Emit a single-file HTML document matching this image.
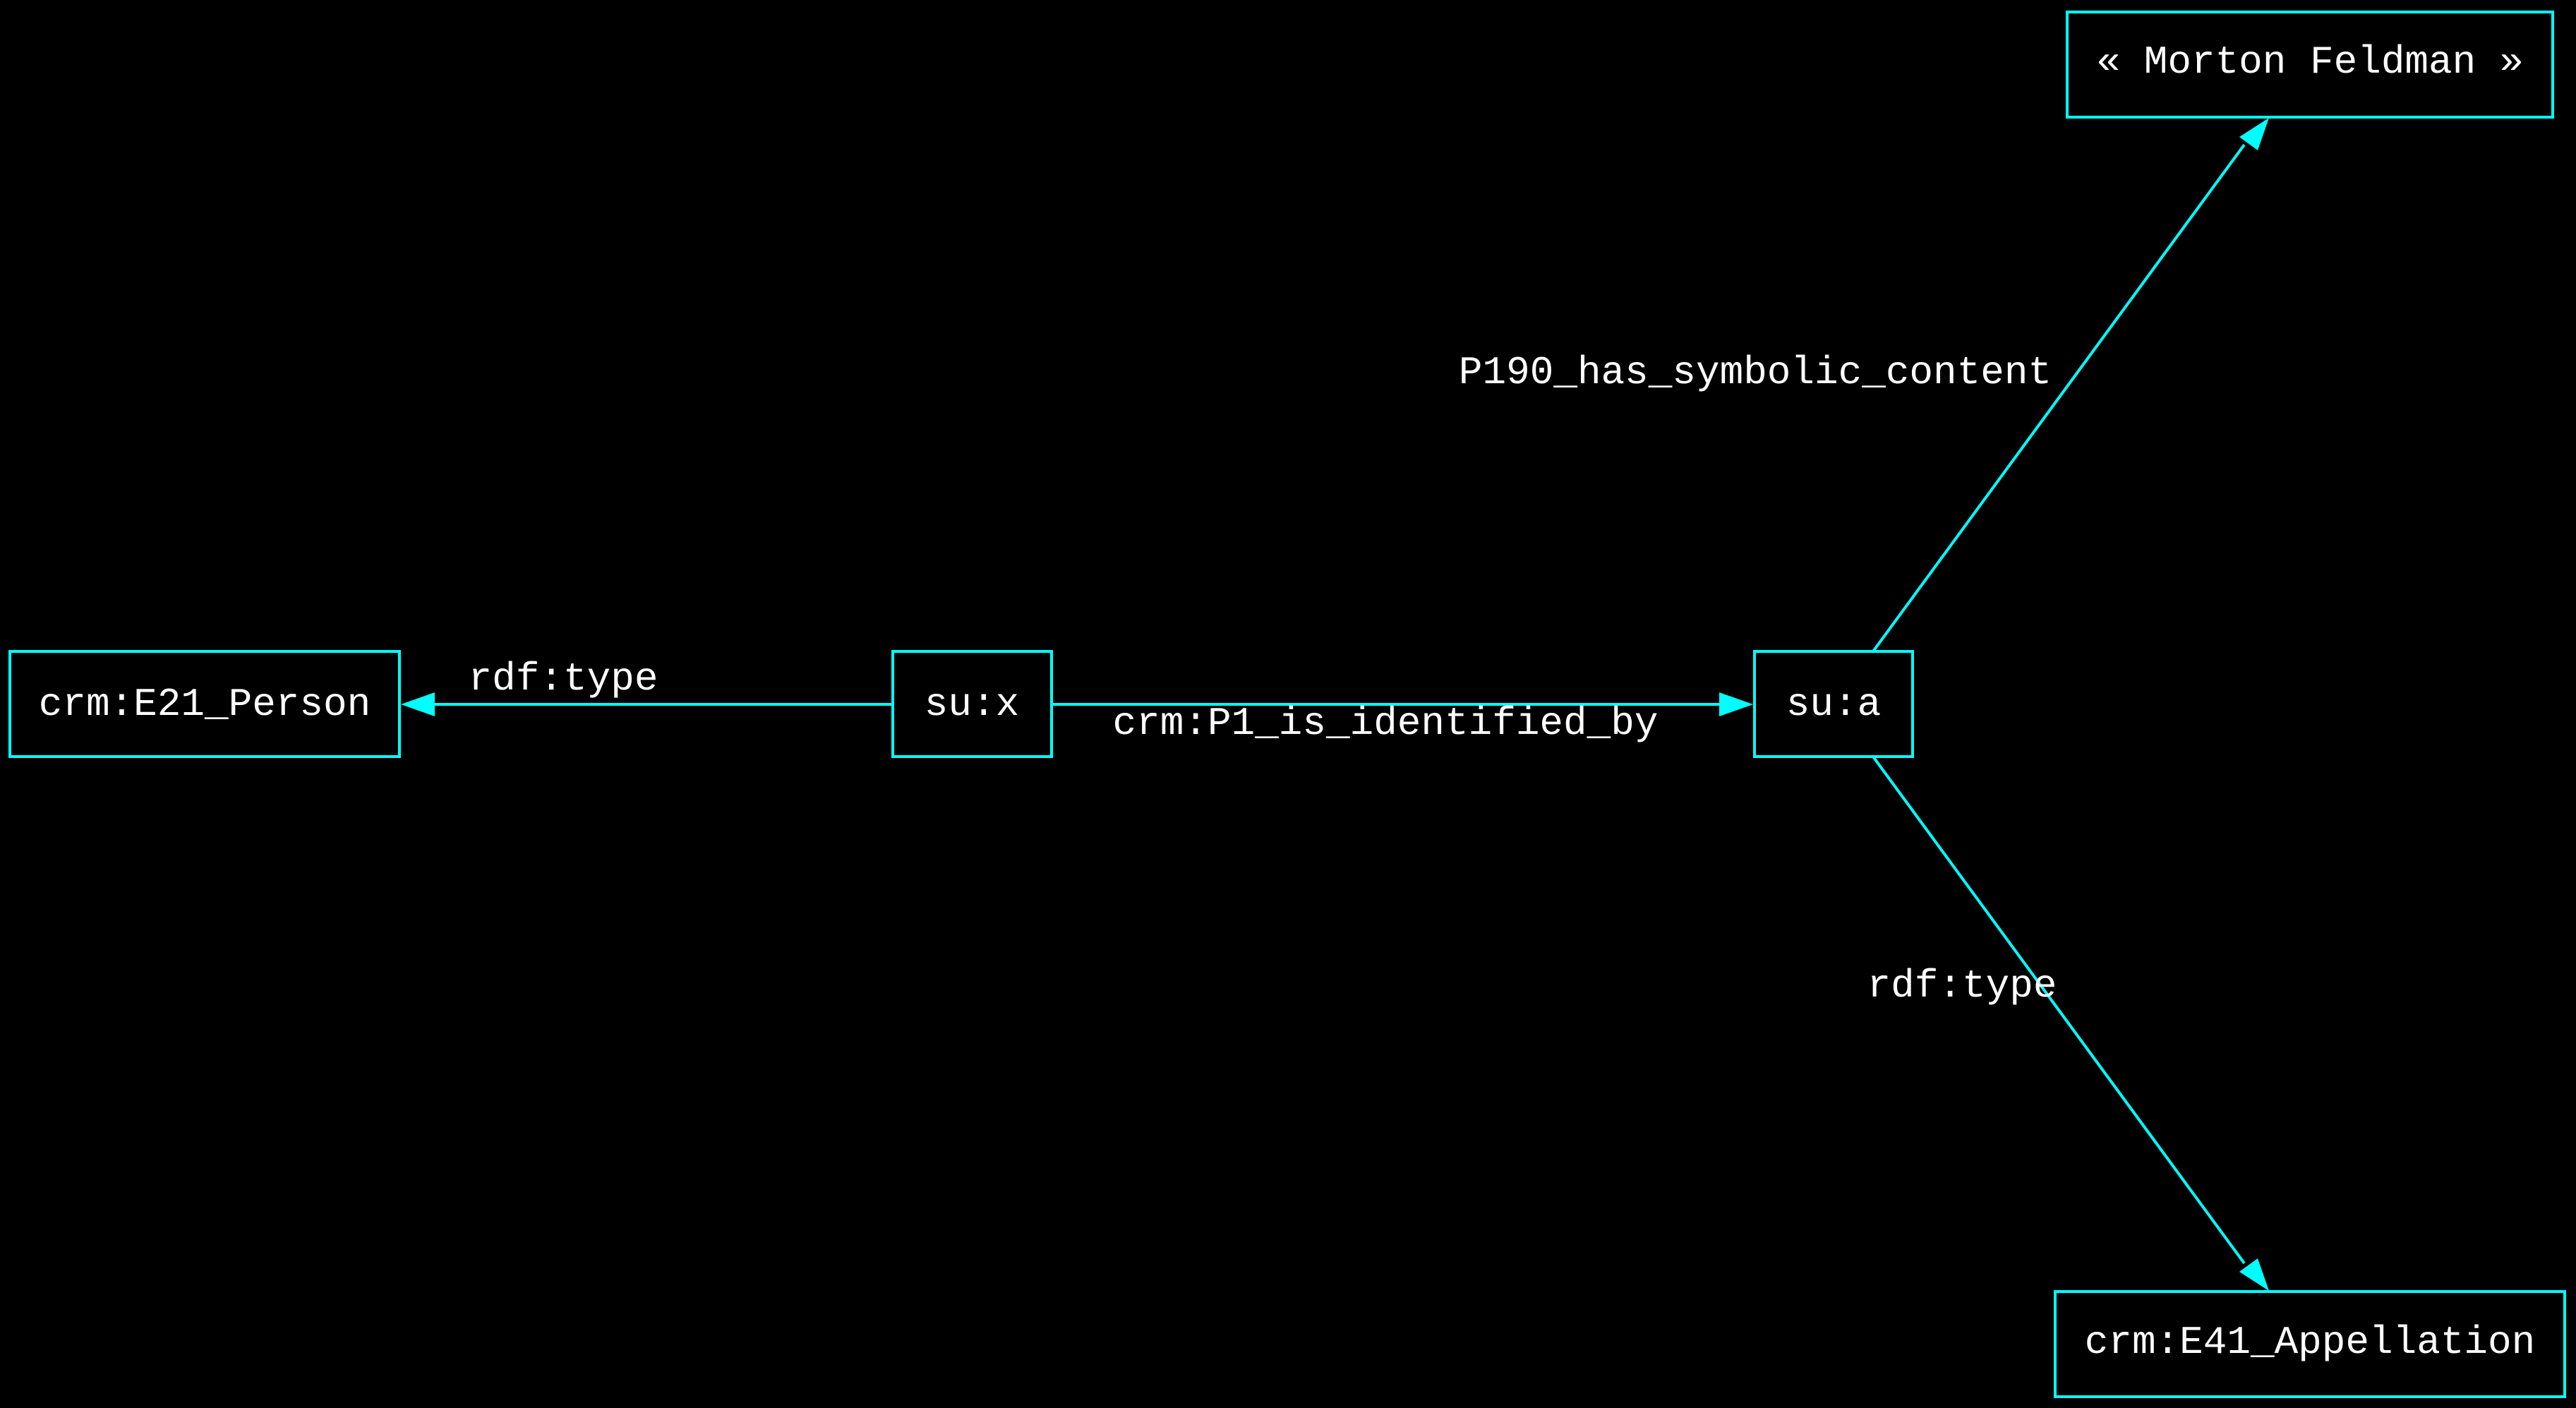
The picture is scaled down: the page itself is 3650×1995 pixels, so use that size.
<!DOCTYPE html>
<html><head><meta charset="utf-8"><style>
html,body{margin:0;padding:0;background:#000;}
svg{display:block}
text{font-family:"Liberation Mono","DejaVu Sans Mono",monospace;font-size:56px;fill:#fff;}
</style></head><body>
<svg width="3650" height="1995" viewBox="0 0 3650 1995" xmlns="http://www.w3.org/2000/svg">
<rect width="3650" height="1995" fill="#000"/>
<g fill="none" stroke="#00ffff" stroke-width="4">
<rect x="14" y="923" width="552" height="149"/>
<rect x="1265" y="923" width="225" height="149"/>
<rect x="2486" y="923" width="224" height="149"/>
<rect x="2929" y="17" width="688" height="149"/>
<rect x="2912" y="1830" width="722" height="149"/>
<line x1="1265" y1="998" x2="610" y2="998"/>
<line x1="1490" y1="998" x2="2440" y2="998"/>
<line x1="2654" y1="923" x2="3180" y2="205"/>
<line x1="2654" y1="1072" x2="3180" y2="1790"/>
</g>
<g fill="#00ffff">
<polygon points="568,998 616,981 616,1015"/>
<polygon points="2484,998 2436,981 2436,1015"/>
<polygon points="3215,167 3199,213 3173,194"/>
<polygon points="3215,1829 3199,1783 3173,1802"/>
</g>
<g text-anchor="middle">
<text x="290" y="1013">crm:E21_Person</text>
<text x="1377" y="1013">su:x</text>
<text x="2598" y="1013">su:a</text>
<text x="3273" y="103">« Morton Feldman »</text>
<text x="3273" y="1917">crm:E41_Appellation</text>
<text x="798" y="977">rdf:type</text>
<text x="1963" y="1040">crm:P1_is_identified_by</text>
<text x="2487" y="543">P190_has_symbolic_content</text>
<text x="2780" y="1412">rdf:type</text>
</g>
</svg>
</body></html>
